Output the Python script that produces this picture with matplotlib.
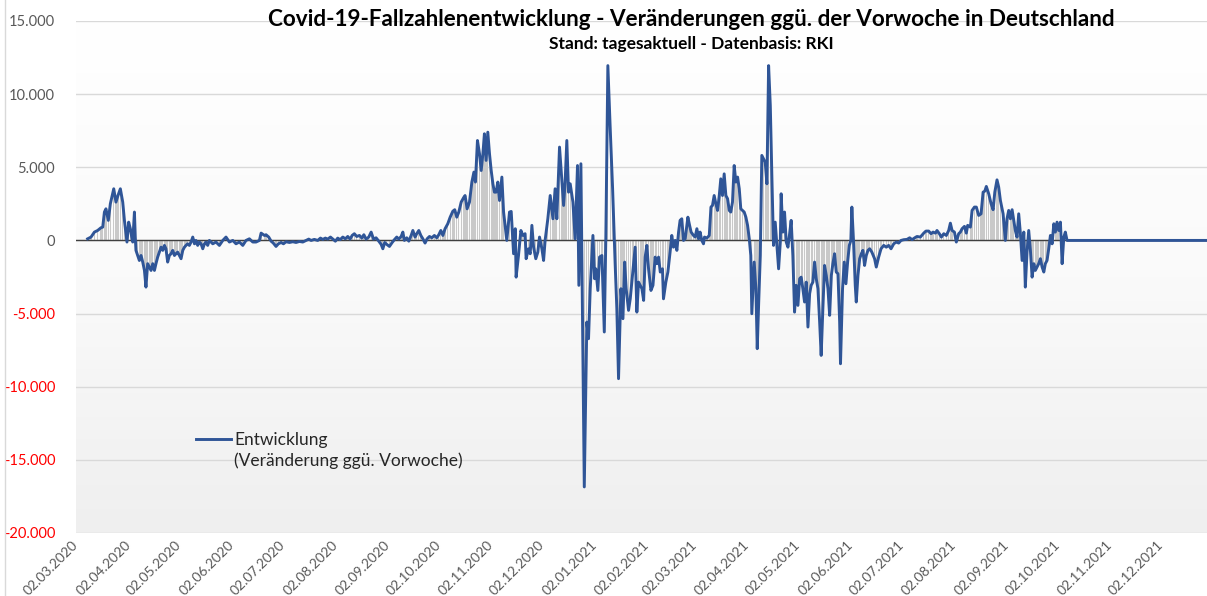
import numpy as np
import pandas as pd
import matplotlib
matplotlib.use("Agg")
import matplotlib.pyplot as plt
import matplotlib.dates as mdates
from matplotlib.lines import Line2D
from matplotlib.ticker import FixedLocator, FuncFormatter
from matplotlib.colors import LinearSegmentedColormap

plt.rcParams['font.family'] = ['Lato', 'DejaVu Sans']

# ---------------- data ----------------
# day offsets are counted from BASE_DATE, values = change vs. previous week
BASE_DATE = "2020-02-27 11:00"

days = [
    10.4, 12.4, 14.4, 16.3, 18.3, 19.3, 20.3, 21.2, 22.6, 23.8, 25.8, 27.1, 28.3, 29.7, 31.1, 32.1,
    33.0, 33.6, 34.6, 35.6, 36.4, 37.0, 38.0, 38.5, 38.9, 39.9, 40.9, 41.9, 42.9, 43.9, 44.8, 45.8,
    46.8, 47.8, 48.8, 49.8, 50.7, 51.7, 52.7, 53.7, 54.7, 55.7, 56.6, 57.6, 58.6, 59.6, 60.6, 61.6,
    62.5, 63.5, 64.5, 65.5, 66.5, 67.5, 68.4, 69.4, 70.4, 71.4, 72.4, 73.4, 74.3, 75.3, 76.3, 77.3,
    78.3, 79.3, 80.2, 81.2, 82.2, 84.2, 86.1, 88.1, 90.1, 92.0, 94.0, 96.0, 97.9, 99.9, 101.9, 103.8,
    105.8, 107.8, 109.7, 111.7, 112.7, 114.7,
    115.6, 117.2, 118.6, 119.9, 121.5, 122.9, 124.5, 125.9, 127.4, 129.4, 131.4, 133.3, 135.3, 137.3,
    139.2, 140.8, 142.2, 144.1, 146.1, 147.7, 149.1, 150.6, 152.0, 153.6, 155.0, 156.5, 157.9, 159.3,
    160.9, 162.4, 163.8, 165.2, 166.4, 167.7, 169.1, 170.7, 172.1, 173.3, 174.6, 176.2, 177.6, 179.0,
    180.5, 182.1, 183.5, 184.5, 185.6, 186.8, 188.4, 190.0, 191.3, 192.7, 193.9, 195.3, 196.3, 197.2,
    198.6, 199.8, 201.2, 202.2, 203.5, 204.5, 205.7, 206.9, 208.1, 209.4, 210.6, 212.0, 213.4, 214.9,
    216.3, 217.5, 218.7, 219.9, 221.2, 222.8, 224.2, 225.8, 226.9, 228.1, 229.3, 230.7, 232.1, 233.0,
    234.2, 235.6, 237.0, 238.2, 239.1, 240.3, 241.5, 242.5, 243.5, 244.4, 245.4, 246.4, 247.4, 248.4,
    249.4, 250.3, 251.3, 252.3, 253.3,
    254.7, 255.7, 257.6, 259.2, 260.2, 261.6, 262.6, 263.1, 264.5, 265.9, 267.1, 268.4, 269.0, 270.4,
    271.4, 272.4, 273.4, 274.7, 275.9, 276.9, 278.3, 279.3, 280.2, 281.8, 283.2, 284.8, 286.1, 287.1,
    288.7, 290.1, 291.1, 292.0, 293.0, 294.0, 295.0, 296.6, 297.9, 299.3, 300.1, 301.3, 303.3, 304.8,
    305.8, 306.8, 308.4, 309.4, 310.1, 311.3, 312.3, 313.7, 315.1, 316.0, 317.2, 318.6, 320.0, 321.5,
    322.5, 323.5, 324.9, 326.1, 327.1, 328.0, 329.4, 330.4, 332.0, 333.3, 334.3, 335.3, 336.3, 337.3,
    338.3, 339.2, 340.2, 341.2, 342.6, 343.8, 345.1, 346.1,
    347.1, 348.1, 349.4, 350.0, 351.4, 352.6, 353.9, 354.9, 355.9, 356.9, 357.9, 358.9, 359.8, 360.8,
    361.8, 362.8, 363.8, 364.4, 365.4, 366.3, 367.7, 368.7, 369.7, 370.7, 371.6, 372.6, 373.6, 374.2,
    375.6, 377.0, 378.0, 378.9, 379.9, 380.9, 381.9, 382.9, 383.8, 384.8, 385.8, 386.8, 387.8, 388.8,
    389.7, 390.7, 391.7, 392.7, 393.7, 394.7, 395.6, 396.6, 397.6, 398.6, 399.6, 400.6, 401.5, 402.1,
    403.5, 404.5, 405.3, 406.1, 407.1, 408.0, 409.0, 410.0, 411.0, 412.0, 413.0, 414.0, 414.9, 415.9,
    416.9, 417.9, 418.9, 419.4, 420.4, 421.4, 422.4, 423.4, 424.4, 425.3, 426.3, 427.3, 428.3, 429.3,
    430.3, 431.2, 432.2, 433.2, 434.2, 435.2, 436.2, 437.1, 438.1, 439.1, 440.1, 441.1, 442.1, 443.0,
    444.0, 445.0, 446.0, 447.0, 448.0, 449.0, 449.9, 450.9, 451.9, 452.9, 453.9, 454.4, 455.6, 456.6,
    457.6, 458.6, 459.6, 460.5, 461.1, 462.1, 463.1, 463.7, 464.7, 465.7, 466.7, 467.6, 468.6, 469.6,
    470.6, 471.6, 472.9, 474.5,
    475.5, 476.9, 478.3, 479.9, 481.4, 482.8, 484.2, 485.8, 487.3, 488.7, 490.1, 491.7, 493.6, 495.2,
    496.6, 498.2, 499.5, 501.5, 503.5, 504.8, 506.4, 507.8, 509.0, 510.4, 511.3, 512.7, 513.9, 515.3,
    516.8, 518.2, 519.2, 520.2, 521.6, 522.7, 524.1, 525.1, 526.1, 527.5, 528.6, 529.4, 531.0, 532.0,
    533.4, 534.5, 535.9, 537.3, 538.5, 539.5, 540.4, 541.8, 543.2, 544.4, 545.4, 546.7, 547.7, 548.7,
    550.3, 551.6, 552.6, 553.6, 554.6, 555.6, 556.6, 557.5, 558.5, 559.5, 560.5, 561.5, 562.5, 563.4,
    564.4, 565.4, 566.4, 567.4, 568.4, 569.3, 570.3, 571.3, 572.3, 573.3, 574.3, 575.2, 576.2, 577.2,
    578.2, 579.2, 580.2, 581.1, 582.1, 583.1, 584.1, 585.1, 586.1, 587.0, 588.0,
    600.0, 620.0, 640.0, 660.0, 672.0,
]

values = [
    110, 230, 570, 680, 870, 910, 1940, 2160, 1370, 2510, 3530, 2620, 3070, 3530, 2620, 1370,
    460, -110, 1250, 800, 230, -110, 1940, 230, -680, -1030, -1370, -1030, -1480, -2050, -3190, -1590,
    -1820, -2050, -1590, -2050, -1590, -1140, -800, -460, -680, -340, -570, -1480, -1030, -910, -680, -1030,
    -910, -800, -1030, -1250, -680, -460, -340, -230, -340, -110, 230, -230, 0, -340, -110, -230,
    -570, -230, -110, -340, 0, -230, -110, -340, 0, 230, -110, 0, -230, -110, -340, 0,
    110, -110, -110, 0, 500, 340,
    390, 230, -50, -180, -410, -230, -140, -230, -90, -140, -90, -140, -70, -110,
    0, 90, 0, 70, 0, 160, 70, 160, 90, 230, 90, -50, 160, 50,
    230, 110, 270, 90, 340, 460, 270, 340, 160, 390, 90, 230, 570, 90,
    180, -50, -270, -570, -140, -270, -410, -140, 50, 230, 90, 270, 570, 0,
    180, -50, 340, 680, 230, 460, 680, 340, 110, -180, 110, 270, 180, 340,
    180, 390, 680, 340, 800, 1140, 1590, 2000, 2100, 1590, 1940, 2620, 2920, 3070,
    2160, 2620, 3990, 4670, 3990, 6830, 5920, 4780, 5920, 7290, 5470, 7400, 5920, 4780,
    3870, 3300, 3300, 3990, 2730,
    4330, 1940, 0, 1940, 1980, -910, 800, -2510, -1030, 680, 340, 460, -1250, -570,
    -910, 1030, -460, -1250, -800, 230, -570, -1370, 0, 1480, 3070, 1480, 3530, 1480,
    6380, 3990, 2390, 3990, 6830, 3300, 3870, 2620, 110, 5120, -3070, 5240, -16850, -5580,
    -6720, -3300, 340, -2620, -1940, -3420, -1140, -1030, -6260, 110, 11950, 7630, 3530, -1590,
    -4670, -9450, -3300, -5350, -1480, -3300, -4780, -3990, -2050, -460, -4900, -2850, -3070, -3300,
    -4100, -1140, -340, -1940, -3420, -3070, -1140, -1590,
    -1140, -2160, -1940, -3990, -2850, -2160, -800, 340, -460, 0, -680, 570, 1370, 1480,
    0, 110, 1030, 1590, 1030, 570, 340, 230, 800, 110, 570, 0, -230, 230,
    160, 340, 2280, 2390, 3070, 2510, 2050, 3070, 4210, 3070, 4550, 3070, 2850, 2050,
    1940, 2620, 5120, 3990, 4330, 3530, 2160, 2050, 1940, 1590, 1030, 110, -1030, -5010,
    -1480, -3300, -7400, -4440, -1030, 5810, 5580, 5350, 3870, 11950, 9220, 3990, -340, 1250,
    -340, -1940, -110, 3190, 570, 1940, -110, -460, 460, 1370, -1030, -4900, -3070, -4440,
    -2620, -2510, -3300, -4210, -2850, -5920, -3640, -3070, -2850, -1480, -2620, -3300, -5580, -7860,
    -4670, -1710, -2390, -3300, -5120, -2390, -1590, -910, -2160, -2280, -5580, -8430, -3300, -1480,
    -2960, -1480, -340, 0, 2280, -110, -3070, -4210, -2390, -1250, -910, -680, -1710, -1030,
    -680, -570, -800, -1250,
    -1820, -1140, -570, -340, -460, -340, -570, -230, -110, -180, 0, 50, 70, 180,
    50, 180, 270, 230, 500, 640, 640, 460, 570, 500, 680, 460, 230, 460,
    340, 680, 1180, 680, 570, -110, 460, 570, 800, 960, 500, 1030, 910, 2050,
    2280, 2280, 1710, 1820, 3300, 3370, 3690, 3190, 2510, 2100, 3300, 4140, 3640, 2730,
    1820, 0, 1480, 2050, 1480, 2100, 1370, 680, 230, 1820, 460, -1370, 570, -3190,
    -800, 680, -680, -2510, -1590, -2050, -1820, -1590, -1250, -1820, -2160, -1590, -1370, -570,
    340, -230, 1140, 570, 1250, 680, 1250, -1590, 230, 570, 0,
    0, 0, 0, 0, 0,
]

y_ticks = [15000, 10000, 5000, 0, -5000, -10000, -15000, -20000]
x_tick_dates = pd.date_range("2020-03-01", "2021-12-01", freq="MS") + pd.Timedelta(days=1)

title = "Covid-19-Fallzahlenentwicklung - Veränderungen ggü. der Vorwoche in Deutschland"
subtitle = "Stand: tagesaktuell - Datenbasis: RKI"
legend_labels = ["Entwicklung", "(Veränderung ggü. Vorwoche)"]

# ---------------- figure ----------------
W, H = 1207, 596
fig = plt.figure(figsize=(W / 100, H / 100), dpi=100)
fig.patch.set_facecolor("white")

ax_pos = [76 / W, 1 - 533 / H, (W - 76) / W, (533 - 21) / H]

# gradient background of plot area
bg = fig.add_axes(ax_pos, zorder=0)
grad = np.linspace(1.0, 0.0, 256).reshape(-1, 1)
cmap = LinearSegmentedColormap.from_list("bg", ["#efefef", "#fafafa", "#ffffff"])
bg.imshow(grad, aspect="auto", cmap=cmap, extent=[0, 1, 0, 1], origin="upper")
bg.set_axis_off()

ax = fig.add_axes(ax_pos, zorder=1)
ax.patch.set_alpha(0)

base = pd.Timestamp(BASE_DATE)
x = base + pd.to_timedelta(np.array(days), unit="D")
v = np.array(values)

ax.bar(x, v, width=0.75, color="#c9c9c9", linewidth=0, zorder=2)
line, = ax.plot(x, v, color="#2f5597", linewidth=2.1, zorder=4, solid_joinstyle="round")

ax.axhline(0, color="#404040", linewidth=1.0, zorder=3)

x0 = pd.Timestamp("2020-03-02")
ax.set_xlim(x0, x0 + pd.Timedelta(days=667))
ax.set_ylim(-20000, 15000)

ax.yaxis.set_major_locator(FixedLocator(y_ticks))
ax.yaxis.set_major_formatter(FuncFormatter(lambda val, pos: f"{val:,.0f}".replace(",", ".")))
ax.grid(axis="y", color="#d9d9d9", linewidth=1.0, zorder=1)
ax.set_axisbelow(True)

ax.set_xticks(x_tick_dates)
ax.xaxis.set_major_formatter(mdates.DateFormatter("%d.%m.%Y"))

for s in ax.spines.values():
    s.set_visible(False)

ax.tick_params(axis="y", length=0, pad=15, labelsize=10.5)
ax.tick_params(axis="x", length=0, pad=7, labelsize=10, labelcolor="#595959")

fig.canvas.draw()
for lab, t in zip(ax.get_yticklabels(), y_ticks):
    lab.set_color("#ff0000" if t < 0 else "#595959")

for lab in ax.get_xticklabels():
    lab.set_rotation(45)
    lab.set_ha("right")
    lab.set_va("center")
    lab.set_rotation_mode("anchor")

# legend
blank = Line2D([], [], color="none")
leg = ax.legend([line, blank], legend_labels, loc="upper left",
                bbox_to_anchor=(196 / W, 1 - 432 / H), bbox_transform=fig.transFigure,
                frameon=False, fontsize=12.5, handlelength=2.0, handletextpad=0.2,
                labelspacing=0.28, borderaxespad=0, borderpad=0)
for t in leg.get_texts():
    t.set_color("#262626")

# titles
fig.text(691 / W, 1 - 20 / H, title, ha="center", va="center", fontsize=16.2,
         fontweight="bold", color="#000000")
fig.text(691 / W, 1 - 44 / H, subtitle, ha="center", va="center", fontsize=12.5,
         fontweight="bold", color="#000000")

# chart border at left
fig.add_artist(Line2D([5 / W, 5 / W], [0, 1], color="#d9d9d9", linewidth=1.0))

fig.savefig("out.png", dpi=100, facecolor="white")
